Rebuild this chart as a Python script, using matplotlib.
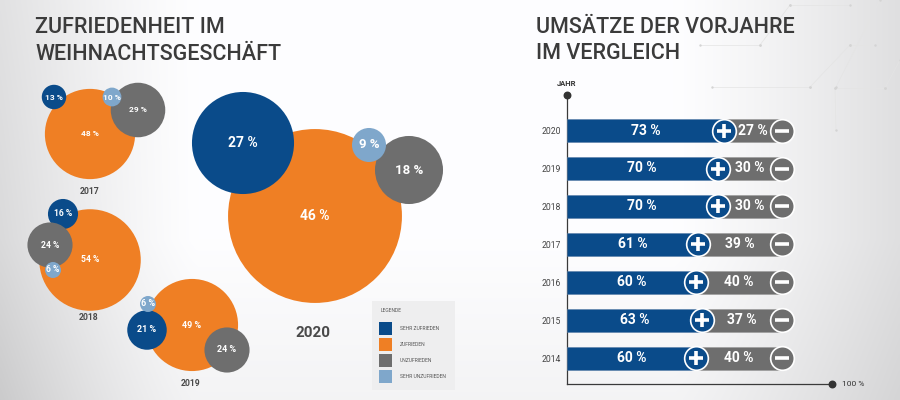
import numpy as np
import matplotlib
matplotlib.use("Agg")
import matplotlib.pyplot as plt
from matplotlib.patches import Circle, Rectangle

# ---------------- data ----------------
bubble_years = ["2017", "2018", "2019", "2020"]
sehr_zufrieden = [13, 16, 21, 27]
zufrieden = [48, 54, 49, 46]
unzufrieden = [29, 24, 24, 18]
sehr_unzufrieden = [10, 6, 6, 9]
legend_labels = ["SEHR ZUFRIEDEN", "ZUFRIEDEN", "UNZUFRIEDEN", "SEHR UNZUFRIEDEN"]

bar_years = ["2014", "2015", "2016", "2017", "2018", "2019", "2020"]
plus_share = [60, 63, 60, 61, 70, 70, 73]
minus_share = [40, 37, 40, 39, 30, 30, 27]

# ---------------- style / layout ----------------
BLUE = "#0a4b8a"
ORANGE = "#ef7f24"
GRAY = "#6e6e6e"
LBLUE = "#7fa7cb"
TXT = "#3b3b3b"
FONT = ["Roboto", "DejaVu Sans"]
plt.rcParams["font.family"] = FONT

# packed-bubble layout (pixel centres), draw order: zufrieden, sehr zufr., unzufr., sehr unzufr.
bubble_centres = {
    "2017": [(90, 134), (54, 97), (138, 110), (112, 97)],
    "2018": [(90, 260), (63, 214), (50, 245), (53, 270)],
    "2019": [(192, 325), (147, 330), (227, 350), (148, 304)],
    "2020": [(315, 216), (243, 143), (409, 170), (369, 145)],
}
bubble_scale = {"2017": 0.94, "2018": 0.94, "2019": 0.94, "2020": 1.89}
year_label_pos = {"2017": (90, 191), "2018": (89, 317), "2019": (191, 383), "2020": (313, 333)}
label_size = {"2017": 6.0, "2018": 6.2, "2019": 6.5, "2020": 10}

fig = plt.figure(figsize=(9, 4), dpi=100)

# pixel-coordinate canvas
cv = fig.add_axes([0, 0, 1, 1])
cv.set_xlim(0, 900)
cv.set_ylim(400, 0)
cv.axis("off")

# background gradient
xx = np.linspace(0, 1, 450)
yy = np.linspace(0, 1, 200)
X, Y = np.meshgrid(xx, yy)
left = np.clip(1 - X / 0.22, 0, 1) ** 1.3
right = np.clip((X - 0.75) / 0.25, 0, 1) ** 1.2
bottom = np.clip((Y - 0.6) / 0.4, 0, 1)
dark = 0.16 * left * (0.7 + 0.3 * Y) + 0.12 * right + 0.04 * bottom
bg = np.clip(1 - dark, 0, 1)
rgb = np.dstack([bg * 0.995, bg * 0.995, bg])
cv.imshow(rgb, extent=(0, 900, 400, 0), aspect="auto", zorder=0, interpolation="bilinear")

# faint hexagon network decoration (top right)
hex_lines = [((700, 45), (760, 45)), ((760, 45), (790, 5)), ((790, 5), (850, 5)),
             ((712, 87), (810, 87)), ((810, 87), (850, 45)), ((850, 45), (875, 45)),
             ((835, 88), (885, 88)), ((835, 88), (836, 130)), ((885, 88), (900, 60)),
             ((836, 87), (880, 0))]
for (a, b) in hex_lines:
    cv.plot([a[0], b[0]], [a[1], b[1]], color="#e4e4e4", lw=0.5, zorder=0.5)
    cv.scatter([a[0], b[0]], [a[1], b[1]], s=3, color="#d4d4d4", zorder=0.5, linewidths=0)

# titles
tkw = dict(fontsize=15.5, color=TXT, va="baseline", ha="left", fontweight="medium")
cv.text(35, 33, "ZUFRIEDENHEIT IM", **tkw)
cv.text(35, 60, "WEIHNACHTSGESCHÄFT", **tkw)
cv.text(536, 33, "UMSÄTZE DER VORJAHRE", **tkw)
cv.text(536, 59, "IM VERGLEICH", **tkw)

# bubbles
colors = [ORANGE, BLUE, GRAY, LBLUE]
for i, yr in enumerate(bubble_years):
    vals = [zufrieden[i], sehr_zufrieden[i], unzufrieden[i], sehr_unzufrieden[i]]
    for k, (v, c) in enumerate(zip(vals, colors)):
        cx, cy = bubble_centres[yr][k]
        r = max(v * bubble_scale[yr], 8)
        cv.add_patch(Circle((cx, cy), r, facecolor=c, edgecolor="none", zorder=2 + k * 0.1))
        fs = label_size[yr]
        if yr == "2020" and k >= 2:
            fs = 9.5
        cv.text(cx, cy, f"{v} %", color="white", fontsize=fs, fontweight="bold",
                ha="center", va="center", zorder=3 + k * 0.1)
    lx, ly = year_label_pos[yr]
    cv.text(lx, ly, yr, color="#4a4a4a", fontsize=11 if yr == "2020" else 6.2,
            fontweight="bold", ha="center", va="center", zorder=3)

# legend box
cv.add_patch(Rectangle((372, 301), 83, 89, facecolor="#eeeeef", edgecolor="none", zorder=2))
cv.text(381, 311, "LEGENDE", fontsize=3.6, color="#555555", va="center", ha="left", zorder=3)
for j, (lab, c) in enumerate(zip(legend_labels, [BLUE, ORANGE, GRAY, LBLUE])):
    yc = 328 + j * 16
    cv.add_patch(Rectangle((379, yc - 6.5), 13, 13, facecolor=c, edgecolor="none", zorder=3))
    cv.text(400, yc, lab, fontsize=3.6, color="#555555", va="center", ha="left", zorder=3)

# ---------------- bar chart ----------------
px_per_pct = 2.15
x0_px, x1_px = 567, 832
ytop_px, ybot_px = 95, 384
step_px = 37.9
y2014_px = 358
ax = fig.add_axes([x0_px / 900, (400 - ybot_px) / 400,
                   (x1_px - x0_px) / 900, (ybot_px - ytop_px) / 400])
ax.set_facecolor("none")
xmax = (x1_px - x0_px) / px_per_pct
ax.set_xlim(0, xmax)
ylo = -(ybot_px - y2014_px) / step_px
yhi = (len(bar_years) - 1) + (y2014_px - (len(bar_years) - 1) * step_px - ytop_px) / step_px
ax.set_ylim(ylo, yhi)

ypos = np.arange(len(bar_years))
bh = 23 / step_px
ax.barh(ypos, minus_share, left=plus_share, height=bh, color=GRAY, edgecolor="#9a9a9a", linewidth=0.4, zorder=2)
ax.barh(ypos, plus_share, height=bh, color=BLUE, edgecolor="#5a7fa8", linewidth=0.4, zorder=3)

ends = np.array(plus_share) + np.array(minus_share)
ax.scatter(plus_share, ypos, s=290, color=BLUE, edgecolor="white", linewidth=1.2, zorder=4)
ax.scatter(plus_share, ypos, s=110, marker="+", color="white", linewidth=2.6, zorder=5)
ax.scatter(ends, ypos, s=290, color=GRAY, edgecolor="white", linewidth=1.2, zorder=4)
ax.scatter(ends, ypos, s=110, marker="_", color="white", linewidth=2.6, zorder=5)

for y, p, m in zip(ypos, plus_share, minus_share):
    ax.text(p / 2, y, f"{p} %", color="white", fontsize=10, fontweight="bold",
            ha="center", va="center", zorder=6)
    ax.text(p + m / 2, y, f"{m} %", color="white", fontsize=10, fontweight="bold",
            ha="center", va="center", zorder=6)

ax.set_yticks(ypos)
ax.set_yticklabels(bar_years, fontsize=6.2, color="#444444")
ax.tick_params(axis="y", length=0, pad=4.5)
ax.set_xticks([])
for s in ["top", "right"]:
    ax.spines[s].set_visible(False)
for s in ["left", "bottom"]:
    ax.spines[s].set_color("#3a3a3a")
    ax.spines[s].set_linewidth(0.9)

ax.scatter([0], [yhi], s=22, color="#333333", clip_on=False, zorder=6)
ax.scatter([xmax], [ylo], s=22, color="#333333", clip_on=False, zorder=6)
ax.annotate("JAHR", (0, yhi), xytext=(0, 6), textcoords="offset points", ha="center",
            va="bottom", fontsize=5.5, fontweight="bold", color="#333333", annotation_clip=False)
ax.annotate("100 %", (xmax, ylo), xytext=(7, 0), textcoords="offset points", ha="left",
            va="center", fontsize=6, color="#333333", annotation_clip=False)

fig.savefig("out.png", dpi=100)
